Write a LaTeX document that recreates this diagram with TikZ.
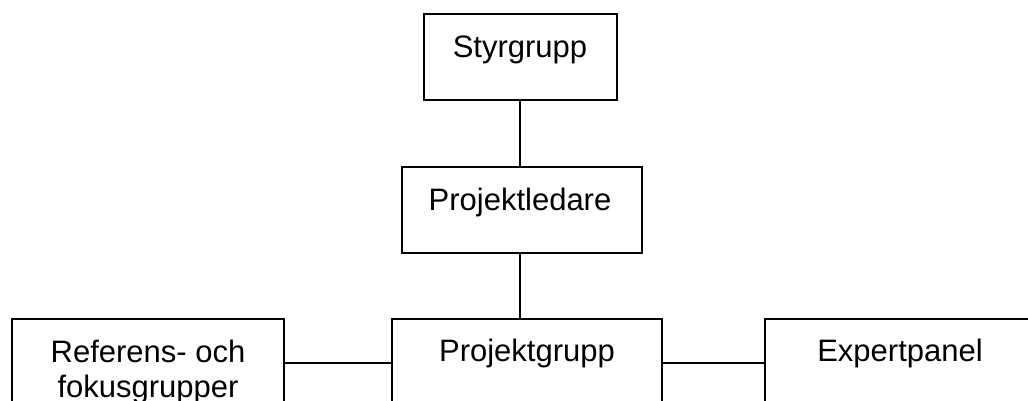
\documentclass[tikz,border=0pt]{standalone}
\usepackage{fontspec}
\setmainfont{Liberation Sans}
\begin{document}
\begin{tikzpicture}[x=1pt,y=-1pt,
  box/.style={draw=black, line width=1.3pt, rectangle, inner sep=0pt, fill=white},
  txt/.style={inner sep=0pt, anchor=base, font=\fontsize{31}{35}\selectfont, align=center},
  conn/.style={draw=black, line width=1.3pt}]
\useasboundingbox (0,0) rectangle (1028,400);
\clip (0,0) rectangle (1028,400);
\fill[white] (0,0) rectangle (1028,400);
% boxes
\node[box, minimum width=193pt, minimum height=86pt] (s) at (520.5,57) {};
\node[box, minimum width=240pt, minimum height=86pt] (pl) at (522,210) {};
\node[box, minimum width=270pt, minimum height=88pt] (pg) at (527,363) {};
\node[box, minimum width=272pt, minimum height=88pt] (rf) at (148,363) {};
\node[box, minimum width=270pt, minimum height=88pt] (ex) at (900,363) {};
% texts
\node[txt] (st) at (520,57) {Styrgrupp};
\node[txt] (plt) at (520,210) {Projektledare};
\node[txt] (pgt) at (527,361) {Projektgrupp};
\node[txt] (rft) at (148,397) {Referens- och\\fokusgrupper};
\node[txt] (ext) at (900,361) {Expertpanel};
% connectors
\draw[conn] (s.south -| 520,0) -- (pl.north -| 520,0);
\draw[conn] (pl.south -| 520,0) -- (pg.north -| 520,0);
\draw[conn] (rf.east) -- (pg.west);
\draw[conn] (pg.east) -- (ex.west);
\end{tikzpicture}
\end{document}
